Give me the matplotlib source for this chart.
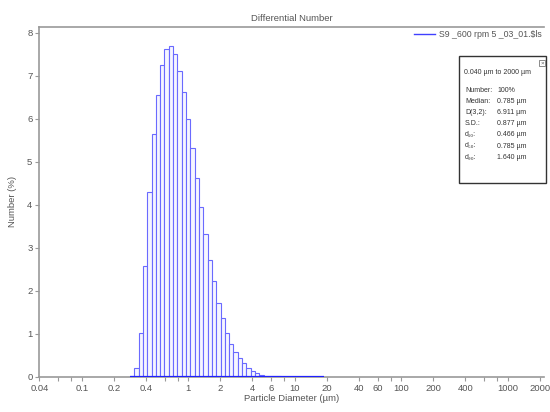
import numpy as np
import matplotlib
matplotlib.use("Agg")
import matplotlib.pyplot as plt
from matplotlib.lines import Line2D
from matplotlib.patches import Rectangle

plt.rcParams["font.family"] = ["Liberation Sans Narrow", "Liberation Sans", "DejaVu Sans"]

# LS 13 320 style channels: 116 log-spaced channels from 0.04 to 2000 um
n_channels = 116
d_min, d_max = 0.04, 2000.0
first_channel = 21

# Differential number (%) per channel
number_pct = [
    0.03, 0.20, 1.02, 2.59, 4.30, 5.64, 6.56, 7.24, 7.62, 7.70,
    7.51, 7.12, 6.62, 5.99, 5.32, 4.62, 3.95, 3.32, 2.72, 2.22,
    1.73, 1.36, 1.03, 0.77, 0.57, 0.43, 0.32, 0.21, 0.15, 0.09,
    0.05, 0.03, 0.02, 0.02, 0.015, 0.01, 0.01, 0.008, 0.006, 0.005,
    0.004, 0.003, 0.003, 0.002, 0.002,
]

tick_values = [0.04, 0.06, 0.08, 0.1, 0.2, 0.4, 0.6, 0.8, 1, 2, 4, 6, 8,
               10, 20, 40, 60, 80, 100, 200, 400, 600, 800, 1000, 2000]
tick_labels = ["0.04", "", "", "0.1", "0.2", "0.4", "", "", "1", "2", "4",
               "6", "", "10", "20", "40", "60", "", "100", "200", "400",
               "", "", "1000", "2000"]

series_name = "S9 _600 rpm 5 _03_01.$ls"
stats_range = "0.040 \u00b5m to 2000 \u00b5m"
stats_labels = ["Number:", "Median:", "D(3,2):", "S.D.:", "d\u2081\u2080:", "d\u2085\u2080:", "d\u2089\u2080:"]
stats_values = ["100%", "0.785 \u00b5m", "6.911 \u00b5m", "0.877 \u00b5m",
                "0.466 \u00b5m", "0.785 \u00b5m", "1.640 \u00b5m"]

BAR_EDGE = "#6a6aff"
GRAY_TEXT = "#555555"
GRAY_LINE = "#999999"
FS = 6.8

edges = d_min * (d_max / d_min) ** (np.arange(n_channels + 1) / n_channels)
values = np.array(number_pct)
left = edges[first_channel:first_channel + len(values)]
right = edges[first_channel + 1:first_channel + len(values) + 1]

fig = plt.figure(figsize=(5.5, 4.12), dpi=100)
ax = fig.add_axes([0.0715, 0.085, 0.918, 0.85])

ax.bar(left, values, width=right - left, align="edge",
       facecolor="#f6f6ff", edgecolor=BAR_EDGE, linewidth=0.8, zorder=3)
ax.plot([left[0], right[-1]], [0, 0], color="#2020ff", linewidth=1.6,
        zorder=4, solid_capstyle="butt")

ax.set_xscale("log")
ax.set_xlim(0.04, 2200)
ax.set_ylim(0, 8.14)
ax.set_xticks(tick_values)
ax.set_xticklabels(tick_labels)
ax.xaxis.set_minor_locator(matplotlib.ticker.NullLocator())
ax.set_yticks(range(0, 9))

ax.tick_params(axis="both", direction="out", length=3, width=0.8,
               colors=GRAY_LINE, labelcolor=GRAY_TEXT, labelsize=FS, pad=2)

for side in ["left", "bottom", "top"]:
    ax.spines[side].set_color(GRAY_LINE)
    ax.spines[side].set_linewidth(1.2)
ax.spines["right"].set_visible(False)

ax.set_title("Differential Number", fontsize=FS, color=GRAY_TEXT, pad=4)
ax.set_xlabel("Particle Diameter (\u00b5m)", fontsize=FS, color=GRAY_TEXT, labelpad=1)
ax.set_ylabel("Number (%)", fontsize=FS, color=GRAY_TEXT, labelpad=7)

handle = Line2D([], [], color="#4040ff", linewidth=1.0)
leg = ax.legend([handle], [series_name], loc="upper right",
                bbox_to_anchor=(1.005, 1.005), frameon=False, fontsize=6.3,
                handlelength=2.4, handletextpad=0.4, borderaxespad=0.2)
for t in leg.get_texts():
    t.set_color(GRAY_TEXT)

# statistics inset box (figure pixel coords converted to fractions)
W, H = 550.0, 412.0
x0, y0, x1, y1 = 459, 56, 546, 183
fig.add_artist(Rectangle((x0 / W, 1 - y1 / H), (x1 - x0) / W, (y1 - y0) / H,
                         transform=fig.transFigure, facecolor="white",
                         edgecolor="#333333", linewidth=1.0, zorder=10))
fig.add_artist(Rectangle((539 / W, 1 - 66 / H), 6 / W, 6 / H,
                         transform=fig.transFigure, facecolor="white",
                         edgecolor="#777777", linewidth=0.6, zorder=11))
fig.text(542 / W, 1 - 63 / H, "\u00d7", fontsize=4.5, color="#555555",
         ha="center", va="center", zorder=12)
fig.text(464 / W, 1 - 73 / H, stats_range, fontsize=5, color="#333333",
         va="center", zorder=12)
for i, (lab, val) in enumerate(zip(stats_labels, stats_values)):
    yy = 1 - (90 + i * 11.2) / H
    fig.text(465 / W, yy, lab, fontsize=5, color="#333333", va="center", zorder=12)
    fig.text(497 / W, yy, val, fontsize=5, color="#333333", va="center", zorder=12)

fig.savefig("out.png", dpi=100)
